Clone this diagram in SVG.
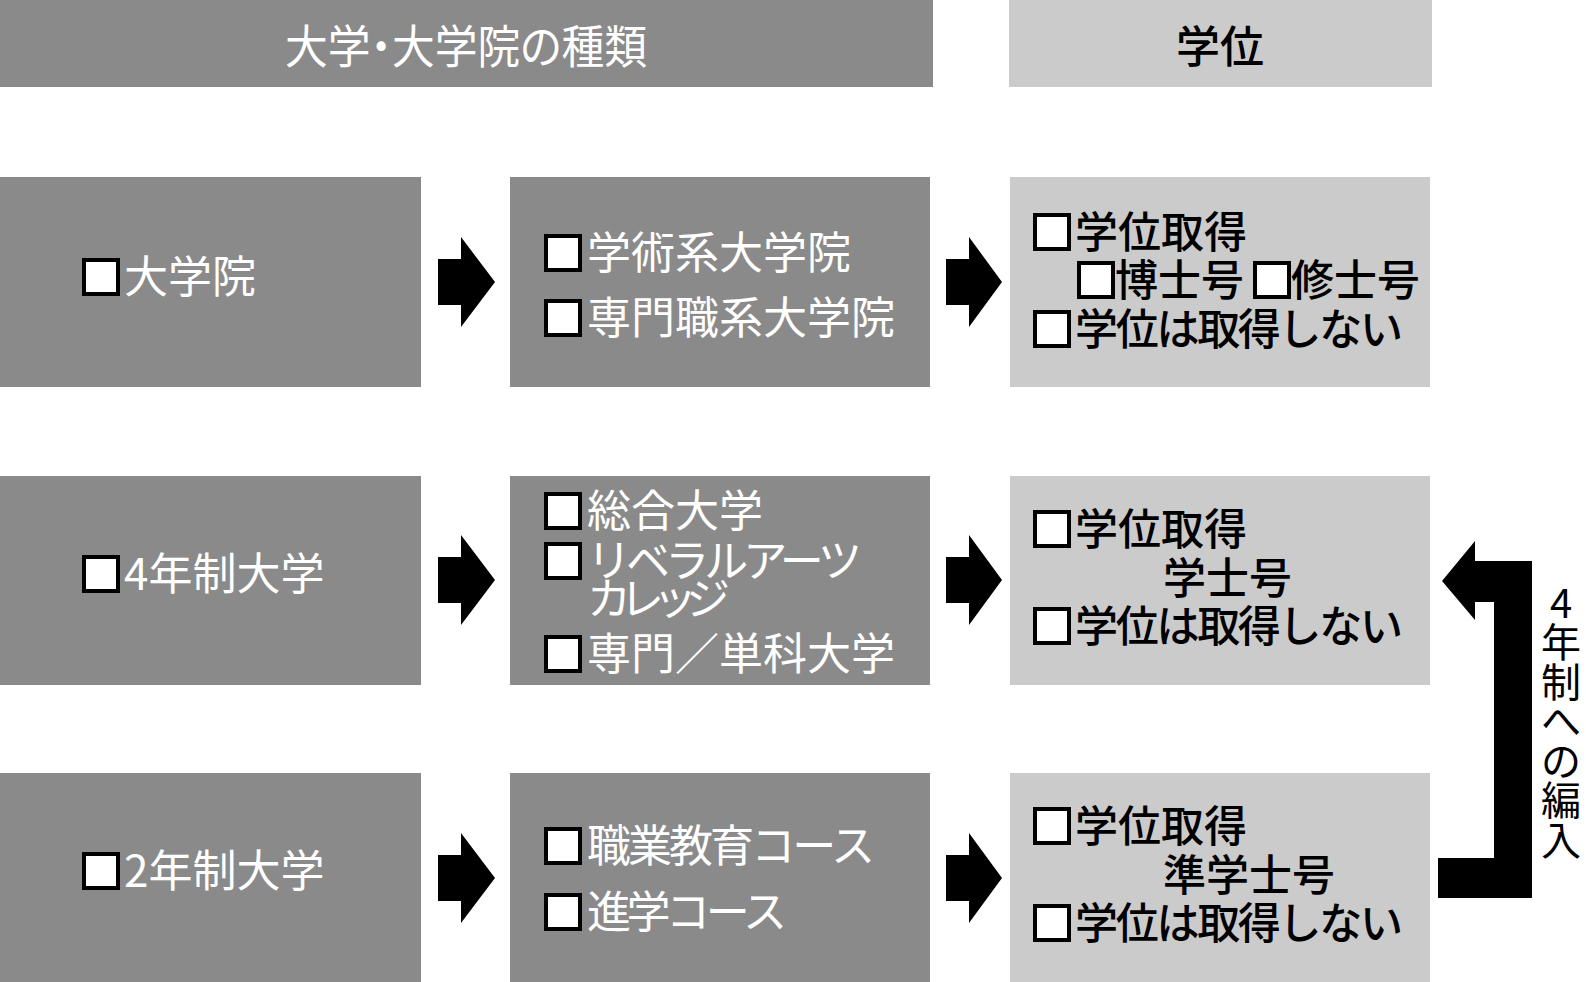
<svg xmlns="http://www.w3.org/2000/svg" width="1586" height="982" viewBox="0 0 1586 982">
<style>
.t{font-family:"Noto Sans CJK JP","Noto Sans CJK SC",sans-serif;font-size:44px;font-weight:400}
.s{font-size:43px}
.w{fill:#fff}
.k{fill:#000;font-weight:500}
.cb{fill:#fff;stroke:#000;stroke-width:4}
.dk{fill:#8a8a8a}
.lt{fill:#cbcbcb}
.ar{fill:#000}
</style>
<rect width="1586" height="982" fill="#fff"/>
<g id="header-types">
<rect class="dk" x="0" y="0" width="933" height="87"/>
<text class="t w" x="466" y="63" text-anchor="middle" style="font-size:46px;font-feature-settings:'palt'" textLength="362" lengthAdjust="spacingAndGlyphs">大学・大学院の種類</text>
</g>
<g id="header-degree">
<rect class="lt" x="1009" y="0" width="423" height="87"/>
<text class="t k" x="1220" y="63" text-anchor="middle">学位</text>
</g>
<g id="grad-school">
<rect class="dk" x="0" y="177" width="421" height="210"/>
<rect class="cb" x="84" y="260" width="34" height="34"/>
<text class="t w" x="124" y="293">大学院</text>
</g>
<g id="grad-types">
<rect class="dk" x="510" y="177" width="420" height="210"/>
<rect class="cb" x="546" y="236" width="34" height="34"/>
<text class="t w" x="587" y="269">学術系大学院</text>
<rect class="cb" x="546" y="301" width="34" height="34"/>
<text class="t w" x="587" y="334">専門職系大学院</text>
</g>
<g id="grad-degree">
<rect class="lt" x="1010" y="177" width="420" height="210"/>
<rect class="cb" x="1035" y="215" width="34" height="34"/>
<text class="t s k" x="1075" y="248">学位取得</text>
<rect class="cb" x="1079" y="263" width="34" height="34"/>
<text class="t s k" x="1115" y="296">博士号</text>
<rect class="cb" x="1255" y="263" width="34" height="34"/>
<text class="t s k" x="1291" y="296">修士号</text>
<rect class="cb" x="1035" y="312" width="34" height="34"/>
<text class="t s k" x="1075" y="345" textLength="328" lengthAdjust="spacing">学位は取得しない</text>
</g>
<g id="four-year">
<rect class="dk" x="0" y="476" width="421" height="209"/>
<rect class="cb" x="84" y="557" width="34" height="34"/>
<text class="t w" x="124" y="590">4年制大学</text>
</g>
<g id="four-year-types">
<rect class="dk" x="510" y="476" width="420" height="209"/>
<rect class="cb" x="546" y="494" width="34" height="34"/>
<text class="t w" x="587" y="527">総合大学</text>
<rect class="cb" x="546" y="544" width="34" height="34"/>
<text class="t w" x="587" y="577" textLength="275" lengthAdjust="spacing">リベラルアーツ</text>
<text class="t w" x="587" y="615" textLength="143" lengthAdjust="spacing">カレッジ</text>
<rect class="cb" x="546" y="637" width="34" height="34"/>
<text class="t w" x="587" y="670">専門／単科大学</text>
</g>
<g id="four-year-degree">
<rect class="lt" x="1010" y="476" width="420" height="209"/>
<rect class="cb" x="1035" y="512" width="34" height="34"/>
<text class="t s k" x="1075" y="545">学位取得</text>
<text class="t s k" x="1163" y="594">学士号</text>
<rect class="cb" x="1035" y="609" width="34" height="34"/>
<text class="t s k" x="1075" y="642" textLength="328" lengthAdjust="spacing">学位は取得しない</text>
</g>
<g id="two-year">
<rect class="dk" x="0" y="773" width="421" height="210"/>
<rect class="cb" x="84" y="854" width="34" height="34"/>
<text class="t w" x="124" y="887">2年制大学</text>
</g>
<g id="two-year-types">
<rect class="dk" x="510" y="773" width="420" height="210"/>
<rect class="cb" x="546" y="829" width="34" height="34"/>
<text class="t w" x="587" y="862" textLength="288" lengthAdjust="spacing">職業教育コース</text>
<rect class="cb" x="546" y="895" width="34" height="34"/>
<text class="t w" x="587" y="928" textLength="200" lengthAdjust="spacing">進学コース</text>
</g>
<g id="two-year-degree">
<rect class="lt" x="1010" y="773" width="420" height="210"/>
<rect class="cb" x="1035" y="809" width="34" height="34"/>
<text class="t s k" x="1075" y="842">学位取得</text>
<text class="t s k" x="1163" y="891">準学士号</text>
<rect class="cb" x="1035" y="906" width="34" height="34"/>
<text class="t s k" x="1075" y="939" textLength="328" lengthAdjust="spacing">学位は取得しない</text>
</g>
<g id="connectors">
<polygon class="ar" points="438,259 461,259 461,237 495,282 461,327 461,305 438,305"/>
<polygon class="ar" points="946,259 969,259 969,237 1002,282 969,327 969,305 946,305"/>
<polygon class="ar" points="438,557 461,557 461,535 495,580 461,625 461,603 438,603"/>
<polygon class="ar" points="946,557 969,557 969,535 1002,580 969,625 969,603 946,603"/>
<polygon class="ar" points="438,855 461,855 461,833 495,878 461,923 461,901 438,901"/>
<polygon class="ar" points="946,855 969,855 969,833 1002,878 969,923 969,901 946,901"/>
<polygon class="ar" points="1442,581 1475,541 1475,561 1532,561 1532,898 1438,898 1438,858 1494,858 1494,602 1475,602 1475,620"/>
</g>
<g id="transfer-label">
<text class="t k" style="font-size:40px;font-weight:400" text-anchor="middle"><tspan x="1561" y="618">4</tspan><tspan x="1561" y="657">年</tspan><tspan x="1561" y="697">制</tspan><tspan x="1561" y="736">へ</tspan><tspan x="1561" y="776">の</tspan><tspan x="1561" y="815">編</tspan><tspan x="1561" y="855">入</tspan></text>
</g>
</svg>
